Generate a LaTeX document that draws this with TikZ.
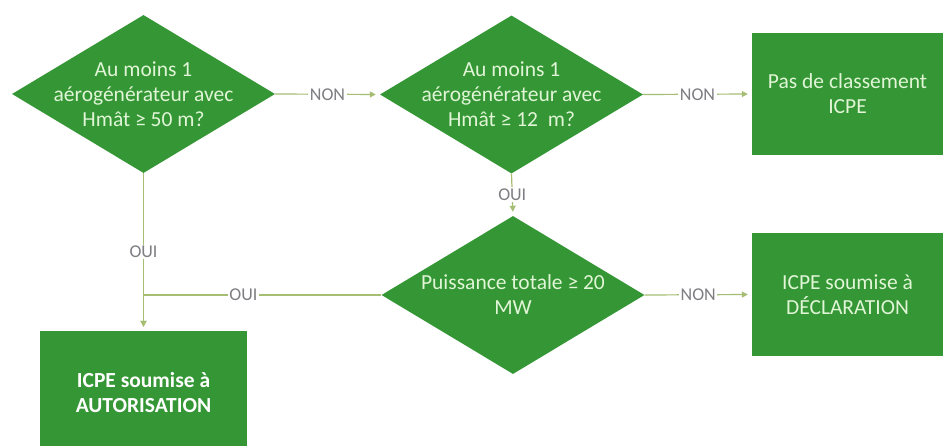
\documentclass[tikz,border=0pt]{standalone}
\usepackage{fontspec}
\setmainfont{Carlito}
\usetikzlibrary{shapes.geometric,arrows.meta}
\definecolor{boxgreen}{RGB}{52,150,52}
\definecolor{txtgreen}{RGB}{225,245,215}
\definecolor{linegreen}{RGB}{165,190,115}
\definecolor{lblgray}{RGB}{125,125,130}
\begin{document}
\begin{tikzpicture}[x=1pt,y=-1pt,
  decision/.style={diamond, fill=boxgreen, minimum width=263pt, minimum height=158pt, inner sep=0pt, aspect=1.665},
  dtext/.style={text=txtgreen, align=center, font=\fontsize{21.5}{25}\selectfont, inner sep=0pt},
  outcome/.style={rectangle, fill=boxgreen, text=txtgreen, align=center, inner sep=0pt, font=\fontsize{21.5}{25}\selectfont},
  conn/.style={draw=linegreen, line width=1.2pt, -{Triangle[length=6pt,width=6pt]}, shorten >=4pt},
  lbl/.style={fill=white, text=lblgray, font=\fontsize{18}{20}\selectfont, inner sep=1.5pt}
]
\clip (0,0) rectangle (945,446);
\fill[white] (0,0) rectangle (945,446);

\node[decision] (d1) at (143.5,94) {};
\node[dtext] (t1) at (d1) {Au moins 1\\aérogénérateur avec\\Hmât ≥ 50 m?};
\node[decision] (d2) at (511.5,94.5) {};
\node[dtext] (t2) at (d2) {Au moins 1\\aérogénérateur avec\\Hmât ≥ 12\ \ m?};
\node[decision] (d3) at (513,295) {};
\node[dtext] (t3) at (d3) {Puissance totale ≥ 20\\MW};

\node[outcome, minimum width=191pt, minimum height=122pt] (b1) at (847.5,94) {Pas de classement\\ICPE};
\node[outcome, minimum width=191pt, minimum height=123pt] (b2) at (847.5,294.5) {ICPE soumise à\\DÉCLARATION};
\node[outcome, minimum width=207pt, minimum height=123pt, text=white, font=\fontsize{21.5}{25}\selectfont\bfseries] (b3) at (143.5,392.5) {ICPE soumise à\\AUTORISATION};

\draw[conn] (d1.east) -- node[lbl]{NON} (d2.west);
\draw[conn] (d2.east) -- node[lbl]{NON} (b1.west);
\draw[conn] (d2.south) -- node[lbl]{OUI} (d3.north);
\draw[conn] (d3.east) -- node[lbl]{NON} (b2.west);
\draw[conn] (d1.south) -- node[lbl]{OUI} (b3.north);
\draw[conn] (d3.west) -| node[lbl, pos=0.29]{OUI} (b3.north);
\end{tikzpicture}
\end{document}
